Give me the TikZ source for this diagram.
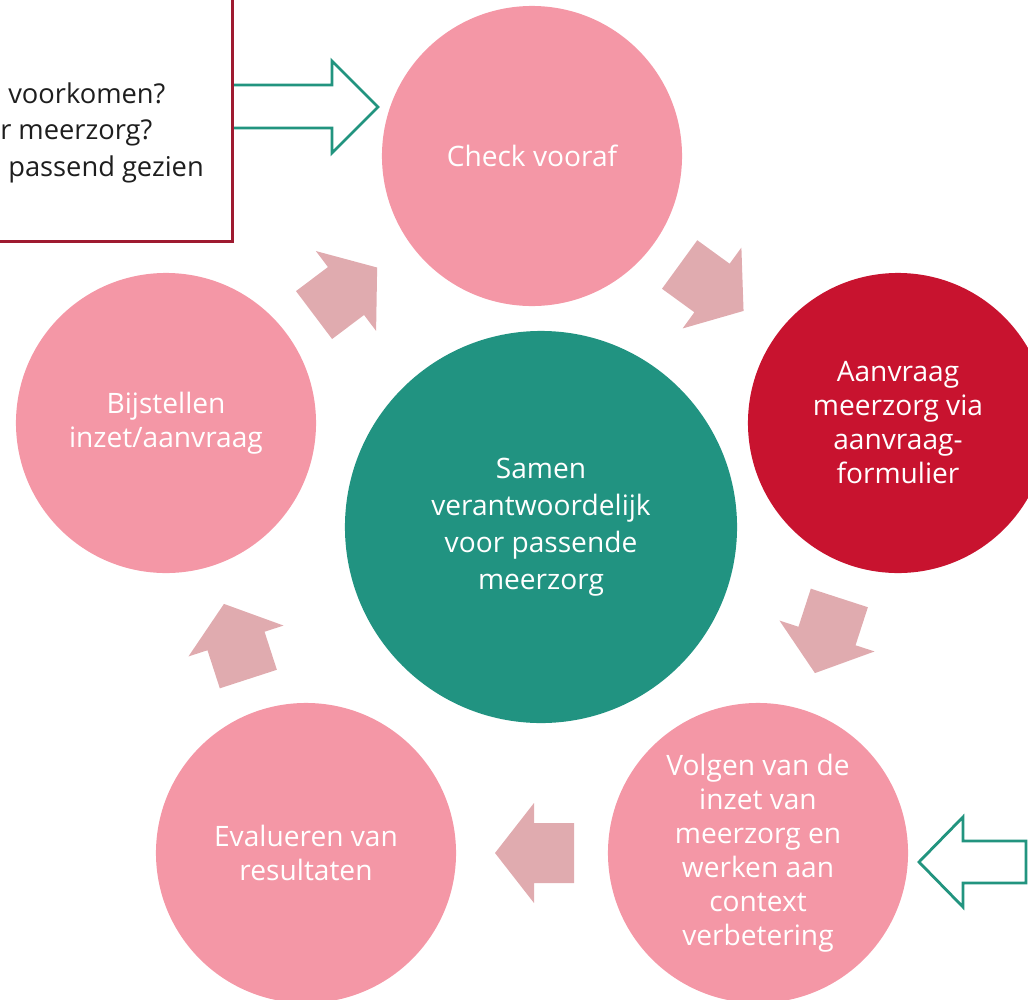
\documentclass[tikz,border=0pt]{standalone}
\usepackage{fontspec}
\setmainfont{Open Sans}

\definecolor{faseroze}{HTML}{F497A6}
\definecolor{aanvraagrood}{HTML}{C8132F}
\definecolor{kerngroen}{HTML}{219381}
\definecolor{pijlroze}{HTML}{E0ABAF}
\definecolor{pijlgroen}{HTML}{22947F}
\definecolor{vraagrand}{HTML}{9E1A30}
\definecolor{vraagzwart}{HTML}{1E1E1E}

\begin{document}
\begin{tikzpicture}[
        x=0.025cm, y=-0.025cm,
        every node/.style={font=\fontsize{20}{24.2}\selectfont, text=white, align=center},
        fase/.style={
            circle,
            fill=faseroze,
            minimum size=7.5cm,
            inner sep=0pt
        },
        aanvraagfase/.style={fase, fill=aanvraagrood},
        kern/.style={
            circle,
            fill=kerngroen,
            minimum size=9.8cm,
            inner sep=0pt,
            font=\fontsize{20}{26.3}\selectfont
        },
        vraagbox/.style={
            draw=vraagrand,
            line width=1.8pt,
            fill=white,
            minimum width=13cm,
            minimum height=6.5cm,
            inner sep=0pt
        },
        vraagtekst/.style={
            text=vraagzwart,
            anchor=base west,
            inner sep=0pt,
            font=\fontsize{19.4}{24}\selectfont
        },
        omlijn/.style={draw=pijlgroen, line width=2pt, line join=miter},
        pijl/.pic={
            \fill[pijlroze] (-40,-30) -- (0,-30) -- (0,-50) -- (39,0)
                -- (0,50) -- (0,30) -- (-40,30) -- cycle;
        }
    ]

    \useasboundingbox (0,0) rectangle (1028,1000);
    \clip (0,0) rectangle (1028,1000);

    % Question box (cut off at the edge)
    \node[vraagbox, anchor=north east] (vraag) at (234,-20) {};
    \node[vraagtekst] (vraag1) at (8,103) {voorkomen?};
    \node[vraagtekst] (vraag2) at (0,139) {r meerzorg?};
    \node[vraagtekst] (vraag3) at (8,176) {passend gezien};

    % Phases of the cycle
    \node[fase] (check) at (532,156) {Check vooraf};
    \node[aanvraagfase] (aanvraag) at (898,423) {Aanvraag\\meerzorg via\\aanvraag-\\formulier};
    \node[fase] (volgen) at (758,853) {Volgen van de\\inzet van\\meerzorg en\\werken aan\\context\\verbetering};
    \node[fase] (evalueren) at (306,853) {Evalueren van\\resultaten};
    \node[fase] (bijstellen) at (166,423) {Bijstellen\\inzet/aanvraag};

    % Centre
    \node[kern] (samen) at (541,527) {Samen\\verantwoordelijk\\voor passende\\meerzorg};

    % Cycle arrows
    \pic[rotate=-36] at (712,288) {pijl};
    \pic[rotate=-108] at (827,636) {pijl};
    \pic[rotate=180] at (534,853) {pijl};
    \pic[rotate=108] at (236,641) {pijl};
    \pic[rotate=37] at (346,291) {pijl};

    % Outline arrows
    \draw[omlijn] (234,85) -- (332,85) -- (332,61) -- (378,107)
        -- (332,153) -- (332,128) -- (234,128);
    \draw[omlijn] (1026,841) -- (963,841) -- (963,817) -- (919,862)
        -- (963,907) -- (963,883) -- (1026,883) -- cycle;

\end{tikzpicture}
\end{document}
